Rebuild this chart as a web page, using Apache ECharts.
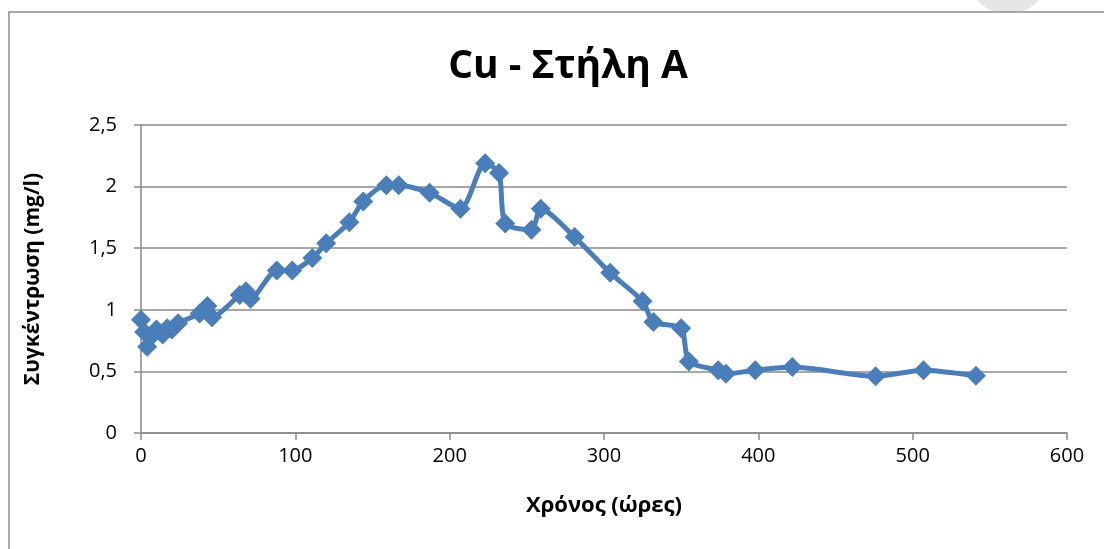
<!DOCTYPE html>
<html>
<head>
<meta charset="utf-8">
<script src="https://cdn.jsdelivr.net/npm/echarts@6/dist/echarts.min.js"></script>
<style>
  html, body { margin: 0; padding: 0; background: #ffffff; }
  #chart { width: 1104px; height: 549px; }
</style>
</head>
<body>
<div id="chart"></div>
<script>
// Time in hours
const hours = [0, 2, 4, 7, 10, 14, 17, 20, 24, 38, 43, 46, 64, 68, 71, 88, 98, 111, 120, 135, 144,
  159, 167, 187, 207, 223, 232, 236, 253, 259, 281, 304, 325, 332, 350, 355, 374, 379, 398, 422,
  476, 507, 541];
// Cu concentration in mg/l
const concentration = [0.92, 0.82, 0.70, 0.79, 0.84, 0.80, 0.85, 0.84, 0.89, 0.97, 1.03, 0.94,
  1.12, 1.15, 1.09, 1.32, 1.32, 1.42, 1.54, 1.71, 1.88, 2.01, 2.01, 1.95, 1.82, 2.19, 2.11, 1.70,
  1.65, 1.82, 1.59, 1.30, 1.07, 0.90, 0.85, 0.58, 0.51, 0.48, 0.51, 0.535, 0.46, 0.51, 0.465];

const titleText = 'Cu - Στήλη Α';
const xName = 'Χρόνος (ώρες)';
const yName = 'Συγκέντρωση (mg/l)';

const points = hours.map((h, i) => [h, concentration[i]]);
const blue = '#4a7ebb';
const gridGrey = '#8a8a8a';
const font = '"Open Sans", "Noto Sans", sans-serif';

const chart = echarts.init(document.getElementById('chart'), null, { renderer: 'canvas' });
chart.setOption({
  backgroundColor: '#ffffff',
  animation: false,
  graphic: [
    {
      type: 'ring', z: -10,
      shape: { cx: 1008, cy: -28, r: 42, r0: 24 },
      style: { fill: '#e6e6e6' }
    },
    {
      type: 'rect', z: -5,
      shape: { x: 9, y: 12, width: 1200, height: 600 },
      style: { fill: '#ffffff', stroke: '#8c8c8c', lineWidth: 1.5 }
    }
  ],
  title: {
    text: titleText,
    left: 563,
    textAlign: 'center',
    top: 42,
    textStyle: { fontFamily: font, fontWeight: 'bold', fontSize: 39, color: '#000' }
  },
  grid: { left: 141, right: 37, top: 125, bottom: 116, containLabel: false },
  xAxis: {
    type: 'value',
    min: 0, max: 600, interval: 100,
    name: xName,
    nameLocation: 'middle',
    nameGap: 62,
    nameTextStyle: { fontFamily: font, fontWeight: 'bold', fontSize: 22, color: '#000' },
    axisLine: { show: true, lineStyle: { color: gridGrey, width: 1.5 } },
    axisTick: { show: true, inside: false, length: 7, lineStyle: { color: gridGrey, width: 1.5 } },
    axisLabel: { fontFamily: font, fontSize: 20, color: '#000', margin: 13 },
    splitLine: { show: false }
  },
  yAxis: {
    type: 'value',
    min: 0, max: 2.5, interval: 0.5,
    name: yName,
    nameLocation: 'middle',
    nameGap: 97,
    nameRotate: 90,
    nameTextStyle: { fontFamily: font, fontWeight: 'bold', fontSize: 21, color: '#000' },
    axisLine: { show: true, lineStyle: { color: gridGrey, width: 1.5 } },
    axisTick: { show: true, inside: false, length: 7, lineStyle: { color: gridGrey, width: 1.5 } },
    axisLabel: {
      fontFamily: font, fontSize: 20, color: '#000', margin: 24,
      formatter: v => String(v).replace('.', ',')
    },
    splitLine: { show: true, lineStyle: { color: gridGrey, width: 1.5 } }
  },
  series: [{
    type: 'line',
    data: points,
    smooth: 0.25,
    symbol: 'diamond',
    symbolSize: 20,
    lineStyle: { color: blue, width: 5 },
    itemStyle: { color: blue },
    z: 3
  }]
});
</script>
</body>
</html>
